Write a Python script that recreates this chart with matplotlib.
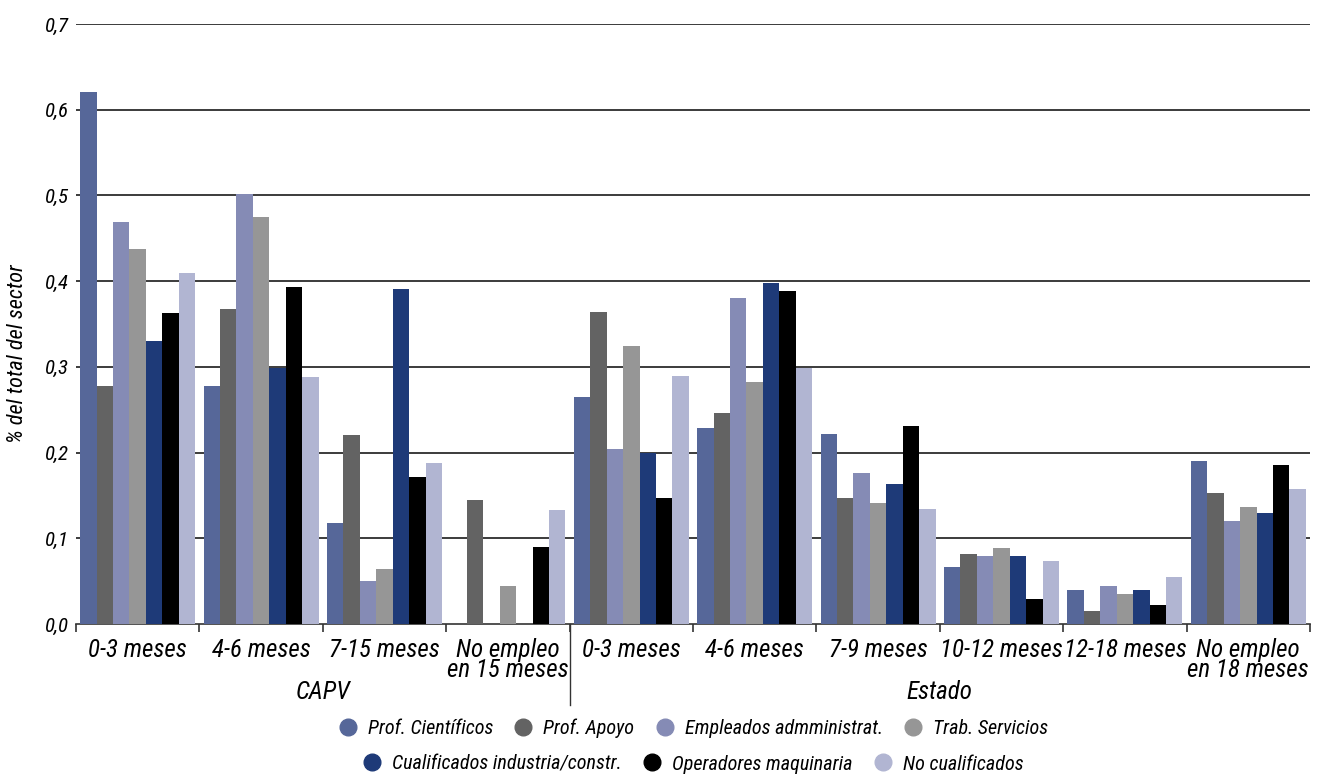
import numpy as np
import matplotlib.pyplot as plt
from matplotlib.lines import Line2D
from matplotlib.transforms import blended_transform_factory

plt.rcParams['font.family'] = ['Roboto Condensed', 'Roboto', 'DejaVu Sans']
plt.rcParams['font.style'] = 'italic'

groups = ['0-3 meses', '4-6 meses', '7-15 meses', 'No empleo\nen 15 meses',
          '0-3 meses', '4-6 meses', '7-9 meses', '10-12 meses', '12-18 meses',
          'No empleo\nen 18 meses']
regions = ['CAPV', 'Estado']
region_sizes = [4, 6]

series = ['Prof. Científicos', 'Prof. Apoyo', 'Empleados admministrat.', 'Trab. Servicios',
          'Cualificados industria/constr.', 'Operadores maquinaria', 'No cualificados']
colors = ['#566799', '#636363', '#858bb5', '#969696', '#1e3a78', '#000000', '#b1b5d2']

prof_cient = [0.621, 0.278, 0.118, 0.0, 0.265, 0.229, 0.222, 0.067, 0.040, 0.190]
prof_apoyo = [0.278, 0.367, 0.220, 0.145, 0.364, 0.246, 0.147, 0.082, 0.015, 0.153]
empleados = [0.469, 0.502, 0.050, 0.0, 0.204, 0.380, 0.176, 0.079, 0.044, 0.120]
trab_serv = [0.437, 0.475, 0.064, 0.044, 0.324, 0.282, 0.141, 0.089, 0.035, 0.137]
cualif = [0.330, 0.299, 0.391, 0.0, 0.200, 0.398, 0.163, 0.079, 0.040, 0.129]
operadores = [0.363, 0.393, 0.172, 0.090, 0.147, 0.389, 0.231, 0.029, 0.022, 0.186]
no_cualif = [0.409, 0.288, 0.188, 0.133, 0.289, 0.299, 0.134, 0.073, 0.055, 0.157]
values = [prof_cient, prof_apoyo, empleados, trab_serv, cualif, operadores, no_cualif]

fig = plt.figure(figsize=(13.27, 7.74), dpi=100)
ax = fig.add_axes([76 / 1327, 1 - 624 / 774, (1310 - 76) / 1327, 600 / 774])

x = np.arange(len(groups))
w = 0.133
for i, (name, vals, c) in enumerate(zip(series, values, colors)):
    ax.bar(x + (i - 3) * w, vals, width=w, color=c, label=name, zorder=3)

ax.set_xlim(-0.5, len(groups) - 0.5)
ax.set_ylim(0, 0.7)
yt = np.arange(0, 0.71, 0.1)
ax.set_yticks(yt)
ax.set_yticklabels([f'{v:.1f}'.replace('.', ',') for v in yt], fontsize=15)
ax.tick_params(axis='y', length=0, pad=5)
for v in yt[1:]:
    ax.axhline(v, color='#1a1a1a', lw=1.2, zorder=1)

ax.set_xticks(x)
ax.set_xticklabels(groups, fontsize=18, linespacing=0.8)
ax.set_xticks(np.arange(-0.5, len(groups)), minor=True)
ax.tick_params(axis='x', which='major', length=0, pad=10)
ax.tick_params(axis='x', which='minor', length=6, width=1.2, color='#333333')

for s in ['left', 'right', 'top']:
    ax.spines[s].set_visible(False)
ax.spines['bottom'].set_color('#333333')
ax.spines['bottom'].set_linewidth(1.2)

ax.set_ylabel('% del total del sector', fontsize=16)
ax.yaxis.set_label_coords(-0.039, 0.45)

# region labels and separator under the axis
tr = blended_transform_factory(ax.transData, ax.transAxes)
start = -0.5
for name, n in zip(regions, region_sizes):
    ax.text(start + n / 2, -0.113, name, transform=tr, ha='center', va='center', fontsize=18)
    start += n
ax.plot([3.5, 3.5], [0, -0.135], transform=tr, color='#333333', lw=1.0, clip_on=False)

handles = [Line2D([], [], marker='o', ls='', markersize=12, markerfacecolor=c,
                  markeredgecolor=c) for c in colors]
leg_kw = dict(loc='center', frameon=False, fontsize=14.5, handlelength=1.0,
              handletextpad=0.5, columnspacing=1.0)
fig.legend(handles[:4], series[:4], ncol=4,
           bbox_to_anchor=(693 / 1327, 1 - 728 / 774), **leg_kw)
fig.legend(handles[4:], series[4:], ncol=3,
           bbox_to_anchor=(693 / 1327, 1 - 764 / 774), **leg_kw)

fig.savefig('out.png', dpi=100)
